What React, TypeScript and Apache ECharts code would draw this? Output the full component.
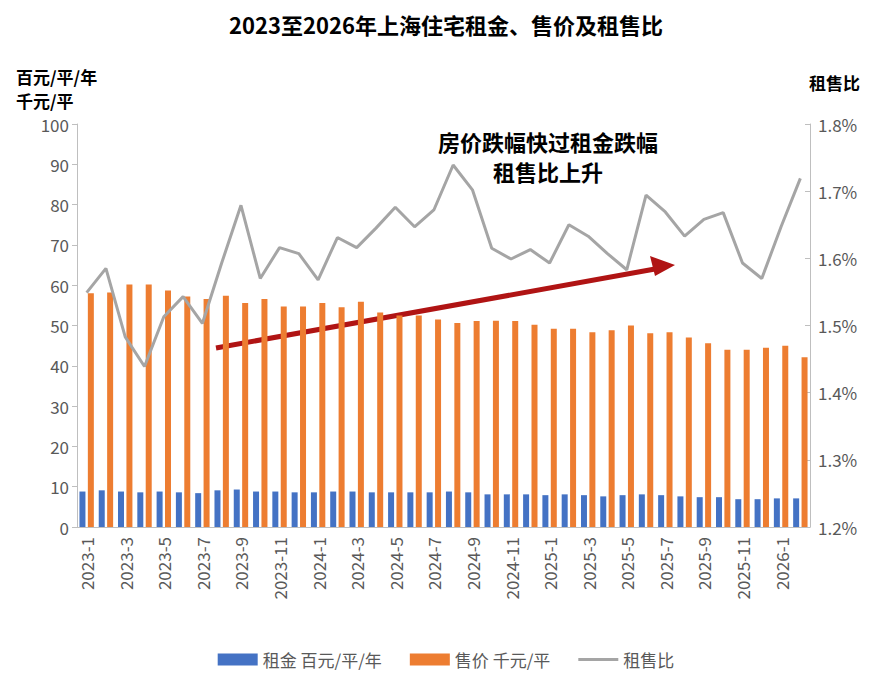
import { useEffect, useRef } from "react";
import * as echarts from "echarts";

const months: string[] = [];
for (let y = 2023; y <= 2026; y++) {
  for (let m = 1; m <= 12; m++) {
    if (y === 2026 && m > 2) break;
    months.push(`${y}-${m}`);
  }
}

const rent = [
  8.8, 9.1, 8.8, 8.6, 8.8, 8.6, 8.4, 9.1, 9.3, 8.8, 8.8, 8.6, 8.6, 8.8, 8.8, 8.6, 8.6, 8.6, 8.6,
  8.8, 8.6, 8.1, 8.1, 8.1, 7.9, 8.1, 7.9, 7.6, 7.9, 8.1, 7.9, 7.6, 7.4, 7.4, 6.9, 6.9, 7.1, 7.1,
];
const price = [
  58, 58.2, 60.2, 60.2, 58.7, 57.2, 56.6, 57.4, 55.6, 56.6, 54.7, 54.7, 55.6, 54.5, 55.9, 53.2, 52.5, 52.5, 51.5,
  50.6, 51.1, 51.2, 51.1, 50.2, 49.2, 49.2, 48.3, 48.8, 50, 48.1, 48.3, 47, 45.6, 44, 44, 44.5, 45, 42.1,
];
const ratio = [
  1.549, 1.585, 1.483, 1.439, 1.513, 1.543, 1.503, 1.593, 1.679, 1.57, 1.616, 1.607, 1.568, 1.631, 1.616, 1.645, 1.676, 1.647, 1.672,
  1.739, 1.702, 1.615, 1.599, 1.613, 1.593, 1.65, 1.633, 1.607, 1.583, 1.694, 1.669, 1.633, 1.658, 1.668, 1.593, 1.57, 1.647, 1.719,
];

const FONT = "'Noto Sans CJK SC', 'Noto Sans', sans-serif";

export default function App() {
  const ref = useRef<HTMLDivElement>(null);

  useEffect(() => {
    if (!ref.current) return;
    const chart = echarts.init(ref.current, undefined, { renderer: "svg" });
    const axisLabel = { fontSize: 17, color: "#595959", fontFamily: FONT };
    chart.setOption({
      animation: false,
      textStyle: { fontFamily: FONT },
      title: {
        text: "2023至2026年上海住宅租金、售价及租售比",
        left: "center",
        top: 0,
        textStyle: { fontSize: 22, fontWeight: "bold", color: "#000", fontFamily: FONT },
      },
      grid: { left: 69, right: 74, top: 116, bottom: 156 },
      legend: {
        bottom: 10,
        left: "center",
        itemWidth: 40,
        itemHeight: 12,
        itemGap: 28,
        textStyle: { fontSize: 17, color: "#595959", fontFamily: FONT },
        data: [
          { name: "租金 百元/平/年", icon: "rect" },
          { name: "售价 千元/平", icon: "rect" },
          { name: "租售比", icon: "path://M0,0H40V3H0Z" },
        ],
      },
      xAxis: {
        type: "category",
        data: months,
        axisLine: { lineStyle: { color: "#bfbfbf" } },
        axisTick: { show: false },
        axisLabel: { ...axisLabel, rotate: 90, interval: 1, margin: 10 },
      },
      yAxis: [
        {
          type: "value",
          min: 0,
          max: 100,
          interval: 10,
          splitLine: { show: false },
          axisLine: { show: true, lineStyle: { color: "#bfbfbf" } },
          axisTick: { show: true, length: 5, lineStyle: { color: "#bfbfbf" } },
          axisLabel: axisLabel,
        },
        {
          type: "value",
          min: 1.2,
          max: 1.8,
          interval: 0.1,
          splitLine: { show: false },
          axisLine: { show: true, lineStyle: { color: "#bfbfbf" } },
          axisTick: { show: true, length: 5, inside: true, lineStyle: { color: "#bfbfbf" } },
          axisLabel: { ...axisLabel, formatter: (v: number) => v.toFixed(1) + "%" },
        },
      ],
      series: [
        {
          name: "租金 百元/平/年",
          type: "bar",
          data: rent,
          barWidth: 6,
          barGap: "40%",
          itemStyle: { color: "#4472C4" },
        },
        {
          name: "售价 千元/平",
          type: "bar",
          data: price,
          barWidth: 6,
          itemStyle: { color: "#ED7D31" },
        },
        {
          name: "租售比",
          type: "line",
          yAxisIndex: 1,
          data: ratio,
          symbol: "none",
          lineStyle: { color: "#A5A5A5", width: 3 },
          itemStyle: { color: "#A5A5A5" },
        },
      ],
      graphic: [
        { type: "text", left: 8, top: 56, style: { text: "百元/平/年\n千元/平", lineHeight: 24, fill: "#000", font: `bold 17px ${FONT}` } },
        { type: "text", right: 24, top: 66, style: { text: "租售比", fill: "#000", font: `bold 17px ${FONT}` } },
        { type: "text", x: 540, y: 118, style: { text: "房价跌幅快过租金跌幅\n租售比上升", align: "center", lineHeight: 30, fill: "#000", font: `bold 22px ${FONT}` } },
        { type: "line", shape: { x1: 208, y1: 340, x2: 647, y2: 261 }, style: { stroke: "#B01414", lineWidth: 5 } },
        { type: "polygon", shape: { points: [[667, 257], [642, 248], [647, 268]] }, style: { fill: "#B01414" } },
      ],
    });
    return () => chart.dispose();
  }, []);

  return <div ref={ref} style={{ width: 876, height: 675 }} />;
}
